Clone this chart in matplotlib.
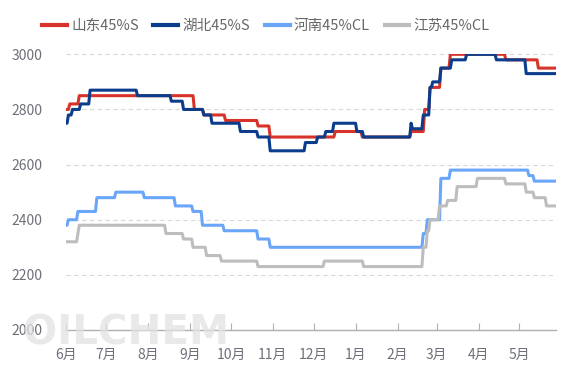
#Price lines of 4 regions, June to May
#step data (change dates + new price)
import pandas as pd
import matplotlib.pyplot as plt
from matplotlib.lines import Line2D

plt.rcParams['font.family'] = ['Noto Sans CJK SC', 'DejaVu Sans']

end_date = '2024-05-28'

# 山东45%S
sd_dates = ['2023-06-01', '2023-06-04', '2023-06-11', '2023-09-04', '2023-09-11',
            '2023-09-27', '2023-10-21', '2023-10-30', '2023-12-17', '2024-01-06',
            '2024-02-11', '2024-02-21', '2024-02-25', '2024-03-04', '2024-03-11',
            '2024-04-21', '2024-05-15']
sd_values = [2800, 2820, 2850, 2800, 2780, 2760, 2740, 2700, 2720, 2700,
             2720, 2800, 2880, 2950, 3000, 2980, 2950]

# 湖北45%S
hb_dates = ['2023-06-01', '2023-06-03', '2023-06-06', '2023-06-12', '2023-06-19',
            '2023-07-24', '2023-08-18', '2023-08-27', '2023-09-11', '2023-09-17',
            '2023-10-08', '2023-10-21', '2023-10-30', '2023-11-25', '2023-12-04',
            '2023-12-10', '2023-12-16', '2024-01-02', '2024-01-07', '2024-02-11',
            '2024-02-12', '2024-02-20', '2024-02-25', '2024-02-27', '2024-03-04',
            '2024-03-12', '2024-03-23', '2024-04-14', '2024-05-06']
hb_values = [2750, 2780, 2800, 2820, 2870, 2850, 2830, 2800, 2780, 2750,
             2720, 2700, 2650, 2680, 2700, 2720, 2750, 2720, 2700, 2750,
             2730, 2780, 2880, 2900, 2950, 2980, 3000, 2980, 2930]

# 河南45%CL
hn_dates = ['2023-06-01', '2023-06-03', '2023-06-10', '2023-06-24', '2023-07-08',
            '2023-07-29', '2023-08-21', '2023-09-03', '2023-09-10', '2023-09-26',
            '2023-10-21', '2023-10-30', '2024-02-20', '2024-02-23', '2024-03-04',
            '2024-03-11', '2024-05-08', '2024-05-12']
hn_values = [2380, 2400, 2430, 2480, 2500, 2480, 2450, 2430, 2380, 2360,
             2330, 2300, 2350, 2400, 2550, 2580, 2560, 2540]

# 江苏45%CL
js_dates = ['2023-06-01', '2023-06-10', '2023-06-11', '2023-08-14', '2023-08-27',
            '2023-09-03', '2023-09-13', '2023-09-24', '2023-10-21', '2023-12-09',
            '2024-01-07', '2024-02-20', '2024-02-23', '2024-02-25', '2024-03-03',
            '2024-03-09', '2024-03-16', '2024-03-31', '2024-04-21', '2024-05-06',
            '2024-05-12', '2024-05-21']
js_values = [2320, 2350, 2380, 2350, 2330, 2300, 2270, 2250, 2230, 2250,
             2230, 2300, 2360, 2400, 2450, 2470, 2520, 2550, 2530, 2500,
             2480, 2450]

names = ['山东45%S', '湖北45%S', '河南45%CL', '江苏45%CL']
colors = ['#d7332a', '#0b3d8c', '#6aa6f8', '#bdbdbd']
month_labels = ['6月', '7月', '8月', '9月', '10月', '11月', '12月',
                '1月', '2月', '3月', '4月', '5月']

days = pd.date_range('2023-06-01', end_date, freq='D')

def daily(d, v):
    # price holds until the next change
    s = pd.Series(v, index=pd.to_datetime(d))
    return s.reindex(days, method='ffill')

fig = plt.figure(figsize=(5.67, 3.78), dpi=100)
ax = fig.add_axes([0.1159, 0.127, 0.8647, 0.7293])

series = [(sd_dates, sd_values), (hb_dates, hb_values),
          (hn_dates, hn_values), (js_dates, js_values)]
for (d, v), c, n in zip(series, colors, names):
    s = daily(d, v)
    ax.plot(s.index, s.values, color=c, linewidth=2.2, label=n, zorder=3)

# watermark
fig.text(0.04, 0.088, 'OILCHEM', fontsize=29, fontweight='bold',
         color='#e2e2e2', alpha=0.75, family='DejaVu Sans', zorder=0)

ax.set_ylim(2000, 3000)
ax.set_yticks(range(2000, 3001, 200))
ax.set_xlim(pd.Timestamp('2023-06-01'), pd.Timestamp(end_date))
ticks = pd.date_range('2023-06-01', '2024-05-01', freq='MS')
ax.set_xticks(ticks)
ax.set_xticklabels(month_labels)

ax.grid(axis='y', color='#d9d9d9', linestyle=(0, (4, 3)), linewidth=0.8)
ax.set_axisbelow(True)
for side in ['top', 'right', 'left']:
    ax.spines[side].set_visible(False)
ax.spines['bottom'].set_color('#b0b0b0')
ax.spines['bottom'].set_linewidth(1.0)
ax.tick_params(axis='y', length=0, pad=17, labelsize=10, labelcolor='#6e7079')
ax.tick_params(axis='x', direction='in', length=5, color='#b0b0b0',
               pad=13, labelsize=10, labelcolor='#6e7079')

handles = [Line2D([], [], color=c, linewidth=3) for c in colors]
fig.legend(handles, names, loc='upper center', bbox_to_anchor=(0.469, 0.985),
           ncol=4, frameon=False, fontsize=10.5, handlelength=1.7,
           handletextpad=0.3, columnspacing=1.0, labelcolor='#666666')

plt.savefig('out.png', dpi=100)
